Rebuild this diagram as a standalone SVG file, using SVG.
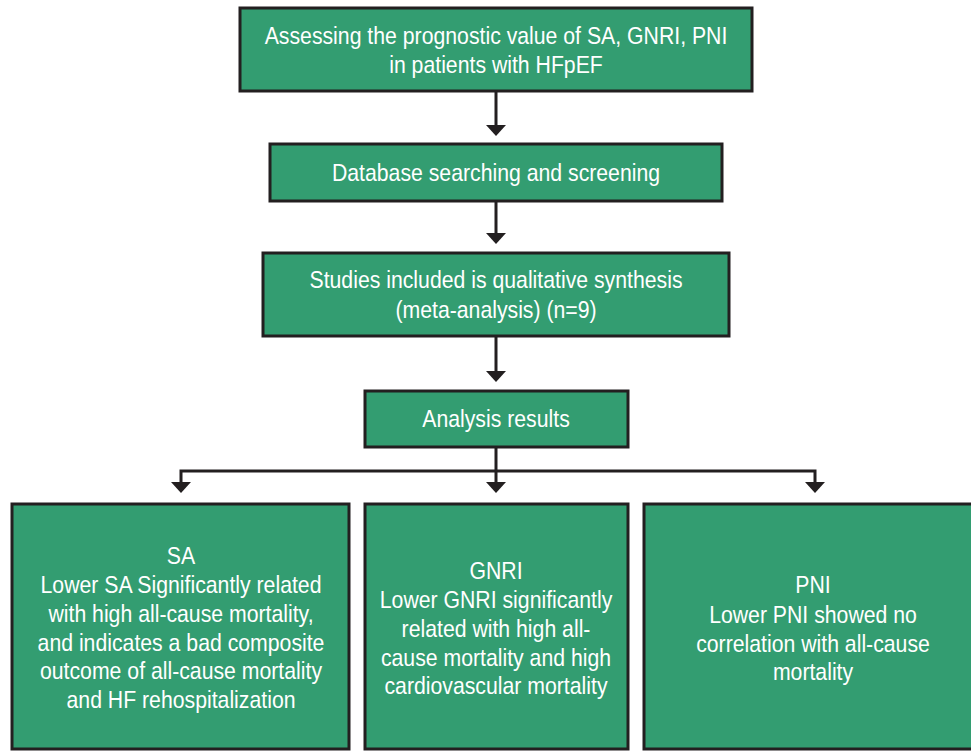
<svg xmlns="http://www.w3.org/2000/svg" width="971" height="751" viewBox="0 0 971 751">
<style>
.box{fill:#339d71;stroke:#231f20;stroke-width:3}
.t{fill:#ffffff;font-family:"Liberation Sans Narrow","Liberation Sans",Arial,sans-serif;font-size:24px;text-anchor:middle}
.ln{fill:none;stroke:#231f20;stroke-width:3}
</style>
<rect width="971" height="751" fill="#ffffff"/>
<g id="connectors">
<line class="ln" x1="496" y1="91" x2="496" y2="125"/>
<path d="M486,125 L506,125 L496,136 Z" fill="#231f20"/>
<line class="ln" x1="496" y1="201" x2="496" y2="234"/>
<path d="M486,233 L506,233 L496,244 Z" fill="#231f20"/>
<line class="ln" x1="496" y1="336" x2="496" y2="372"/>
<path d="M486,371 L506,371 L496,382 Z" fill="#231f20"/>
<polyline class="ln" points="181,483 181,471 815,471 815,483"/>
<line class="ln" x1="496" y1="447" x2="496" y2="483"/>
<path d="M171,482 L191,482 L181,493 Z" fill="#231f20"/>
<path d="M486,482 L506,482 L496,493 Z" fill="#231f20"/>
<path d="M805,482 L825,482 L815,493 Z" fill="#231f20"/>
</g>
<g id="n1">
<rect class="box" x="240" y="8" width="512" height="83"/>
<text class="t" transform="translate(496,44) scale(0.885,1)">Assessing the prognostic value of SA, GNRI, PNI</text>
<text class="t" transform="translate(496,73) scale(0.885,1)">in patients with HFpEF</text>
</g>
<g id="n2">
<rect class="box" x="270" y="144" width="452" height="57"/>
<text class="t" transform="translate(496,181) scale(0.885,1)">Database searching and screening</text>
</g>
<g id="n3">
<rect class="box" x="263" y="253" width="466" height="83"/>
<text class="t" transform="translate(496,288) scale(0.885,1)">Studies included is qualitative synthesis</text>
<text class="t" transform="translate(496,318) scale(0.885,1)">(meta-analysis) (n=9)</text>
</g>
<g id="n4">
<rect class="box" x="365" y="391" width="263" height="56"/>
<text class="t" transform="translate(496,427) scale(0.885,1)">Analysis results</text>
</g>
<g id="n5">
<rect class="box" x="12" y="504" width="337" height="245"/>
<text class="t" transform="translate(181,564) scale(0.885,1)">SA</text>
<text class="t" transform="translate(181,593) scale(0.885,1)">Lower SA Significantly related</text>
<text class="t" transform="translate(181,622) scale(0.885,1)">with high all-cause mortality,</text>
<text class="t" transform="translate(181,651) scale(0.885,1)">and indicates a bad composite</text>
<text class="t" transform="translate(181,679) scale(0.885,1)">outcome of all-cause mortality</text>
<text class="t" transform="translate(181,708) scale(0.885,1)">and HF rehospitalization</text>
</g>
<g id="n6">
<rect class="box" x="365" y="504" width="263" height="245"/>
<text class="t" transform="translate(496,579) scale(0.885,1)">GNRI</text>
<text class="t" transform="translate(496,608) scale(0.885,1)">Lower GNRI significantly</text>
<text class="t" transform="translate(496,637) scale(0.885,1)">related with high all-</text>
<text class="t" transform="translate(496,666) scale(0.885,1)">cause mortality and high</text>
<text class="t" transform="translate(496,694) scale(0.885,1)">cardiovascular mortality</text>
</g>
<g id="n7">
<rect class="box" x="644" y="504" width="338" height="245"/>
<text class="t" transform="translate(813,593) scale(0.885,1)">PNI</text>
<text class="t" transform="translate(813,623) scale(0.885,1)">Lower PNI showed no</text>
<text class="t" transform="translate(813,652) scale(0.885,1)">correlation with all-cause</text>
<text class="t" transform="translate(813,680) scale(0.885,1)">mortality</text>
</g>
</svg>
